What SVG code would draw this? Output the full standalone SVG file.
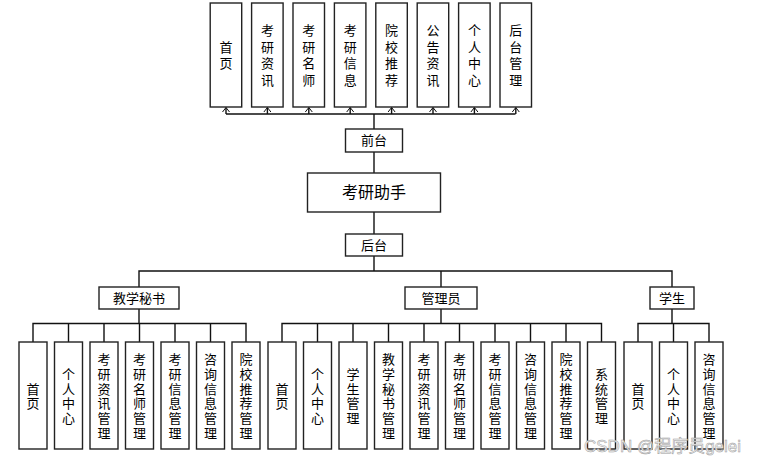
<svg xmlns="http://www.w3.org/2000/svg" width="782" height="466" viewBox="0 0 782 466">
<defs>
<style>
.b{fill:#fff;stroke:#222;stroke-width:1.4}
.t{font-family:"Noto Sans CJK SC","Noto Sans",sans-serif;font-size:13px;fill:#000;text-anchor:middle}
.v{font-family:"Noto Sans CJK SC","Noto Sans",sans-serif;font-size:13px;fill:#000;text-anchor:middle;writing-mode:vertical-rl;letter-spacing:1.7px}
.vt{letter-spacing:3.5px}
.c{fill:none;stroke:#111;stroke-width:1.4}
</style>
</defs>
<rect width="782" height="466" fill="#fff"/>

<g id="connectors">
<path class="c" d="M226,114 H515.5 M374,114 V129"/>
<path class="c" d="M226,114 V107.5 M267.4,114 V107.5 M308.8,114 V107.5 M350.2,114 V107.5 M391.6,114 V107.5 M433,114 V107.5 M474.4,114 V107.5 M515.8,114 V107.5"/>
<g fill="none" stroke="#111" stroke-width="1">
<path d="M222.5,112 L226,107.5 L229.5,112"/>
<path d="M263.9,112 L267.4,107.5 L270.9,112"/>
<path d="M305.3,112 L308.8,107.5 L312.3,112"/>
<path d="M346.7,112 L350.2,107.5 L353.7,112"/>
<path d="M388.1,112 L391.6,107.5 L395.1,112"/>
<path d="M429.5,112 L433,107.5 L436.5,112"/>
<path d="M470.9,112 L474.4,107.5 L477.9,112"/>
<path d="M512.3,112 L515.8,107.5 L519.3,112"/>
</g>
<path class="c" d="M374,152 V173 M374,212 V234 M374,256 V271 M139,287 V271 H672 V287 M441,271 V287"/>
<path class="c" d="M139,309 V323.5 M33,342 V323.5 H246 V342 M68.5,323.5 V342 M104,323.5 V342 M139.5,323.5 V342 M175,323.5 V342 M210.5,323.5 V342"/>
<path class="c" d="M441,309 V323.5 M282,342 V323.5 H601.5 V342 M317.5,323.5 V342 M353,323.5 V342 M388.5,323.5 V342 M424,323.5 V342 M459.5,323.5 V342 M495,323.5 V342 M530.5,323.5 V342 M566,323.5 V342"/>
<path class="c" d="M672,309 V323.5 M638,342 V323.5 H709 V342 M673.5,323.5 V342"/>
</g>

<g id="top-nodes">
<g id="n-shouye"><rect class="b" x="210.2" y="3" width="31.5" height="104"/><text class="v vt" x="226" y="57">首页</text></g>
<g id="n-kyzx"><rect class="b" x="251.6" y="3" width="31.5" height="104"/><text class="v vt" x="267.4" y="57">考研资讯</text></g>
<g id="n-kyms"><rect class="b" x="293" y="3" width="31.5" height="104"/><text class="v vt" x="308.8" y="57">考研名师</text></g>
<g id="n-kyxx"><rect class="b" x="334.4" y="3" width="31.5" height="104"/><text class="v vt" x="350.2" y="57">考研信息</text></g>
<g id="n-yxtj"><rect class="b" x="375.8" y="3" width="31.5" height="104"/><text class="v vt" x="391.6" y="57">院校推荐</text></g>
<g id="n-ggzx"><rect class="b" x="417.2" y="3" width="31.5" height="104"/><text class="v vt" x="433" y="57">公告资讯</text></g>
<g id="n-grzx"><rect class="b" x="458.6" y="3" width="31.5" height="104"/><text class="v vt" x="474.4" y="57">个人中心</text></g>
<g id="n-htgl"><rect class="b" x="500" y="3" width="31.5" height="104"/><text class="v vt" x="515.8" y="57">后台管理</text></g>
</g>

<g id="n-qiantai"><rect class="b" x="345.5" y="129" width="57" height="23"/><text class="t" x="374" y="145">前台</text></g>
<g id="n-root"><rect class="b" x="307.5" y="173" width="133" height="39"/><text class="t" x="374" y="198" style="font-size:16px">考研助手</text></g>
<g id="n-houtai"><rect class="b" x="345.5" y="234" width="57" height="22"/><text class="t" x="374" y="250">后台</text></g>

<g id="n-mishu"><rect class="b" x="99" y="287" width="80" height="22"/><text class="t" x="139" y="303">教学秘书</text></g>
<g id="n-admin"><rect class="b" x="405" y="287" width="72" height="22"/><text class="t" x="441" y="303">管理员</text></g>
<g id="n-student"><rect class="b" x="650" y="287" width="44" height="22"/><text class="t" x="672" y="303">学生</text></g>

<g id="mishu-children">
<g id="m1"><rect class="b" x="19" y="342" width="28" height="107"/><text class="v" x="33" y="397">首页</text></g>
<g id="m2"><rect class="b" x="54.5" y="342" width="28" height="107"/><text class="v" x="68.5" y="397">个人中心</text></g>
<g id="m3"><rect class="b" x="90" y="342" width="28" height="107"/><text class="v" x="104" y="397">考研资讯管理</text></g>
<g id="m4"><rect class="b" x="125.5" y="342" width="28" height="107"/><text class="v" x="139.5" y="397">考研名师管理</text></g>
<g id="m5"><rect class="b" x="161" y="342" width="28" height="107"/><text class="v" x="175" y="397">考研信息管理</text></g>
<g id="m6"><rect class="b" x="196.5" y="342" width="28" height="107"/><text class="v" x="210.5" y="397">咨询信息管理</text></g>
<g id="m7"><rect class="b" x="232" y="342" width="28" height="107"/><text class="v" x="246" y="397">院校推荐管理</text></g>
</g>

<g id="admin-children">
<g id="a1"><rect class="b" x="268" y="342" width="28" height="107"/><text class="v" x="282" y="397">首页</text></g>
<g id="a2"><rect class="b" x="303.5" y="342" width="28" height="107"/><text class="v" x="317.5" y="397">个人中心</text></g>
<g id="a3"><rect class="b" x="339" y="342" width="28" height="107"/><text class="v" x="353" y="397">学生管理</text></g>
<g id="a4"><rect class="b" x="374.5" y="342" width="28" height="107"/><text class="v" x="388.5" y="397">教学秘书管理</text></g>
<g id="a5"><rect class="b" x="410" y="342" width="28" height="107"/><text class="v" x="424" y="397">考研资讯管理</text></g>
<g id="a6"><rect class="b" x="445.5" y="342" width="28" height="107"/><text class="v" x="459.5" y="397">考研名师管理</text></g>
<g id="a7"><rect class="b" x="481" y="342" width="28" height="107"/><text class="v" x="495" y="397">考研信息管理</text></g>
<g id="a8"><rect class="b" x="516.5" y="342" width="28" height="107"/><text class="v" x="530.5" y="397">咨询信息管理</text></g>
<g id="a9"><rect class="b" x="552" y="342" width="28" height="107"/><text class="v" x="566" y="397">院校推荐管理</text></g>
<g id="a10"><rect class="b" x="587.5" y="342" width="28" height="107"/><text class="v" x="601.5" y="397">系统管理</text></g>
</g>

<g id="student-children">
<g id="s1"><rect class="b" x="624" y="342" width="28" height="107"/><text class="v" x="638" y="397">首页</text></g>
<g id="s2"><rect class="b" x="659.5" y="342" width="28" height="107"/><text class="v" x="673.5" y="397">个人中心</text></g>
<g id="s3"><rect class="b" x="695" y="342" width="28" height="107"/><text class="v" x="709" y="397">咨询信息管理</text></g>
</g>

<text x="584" y="452" style="font-family:'Liberation Sans','Noto Sans CJK SC',sans-serif;font-size:17px;fill:#f2f2f2;stroke:#9a9a9a;stroke-width:0.5">CSDN @程序员gelei</text>
</svg>
